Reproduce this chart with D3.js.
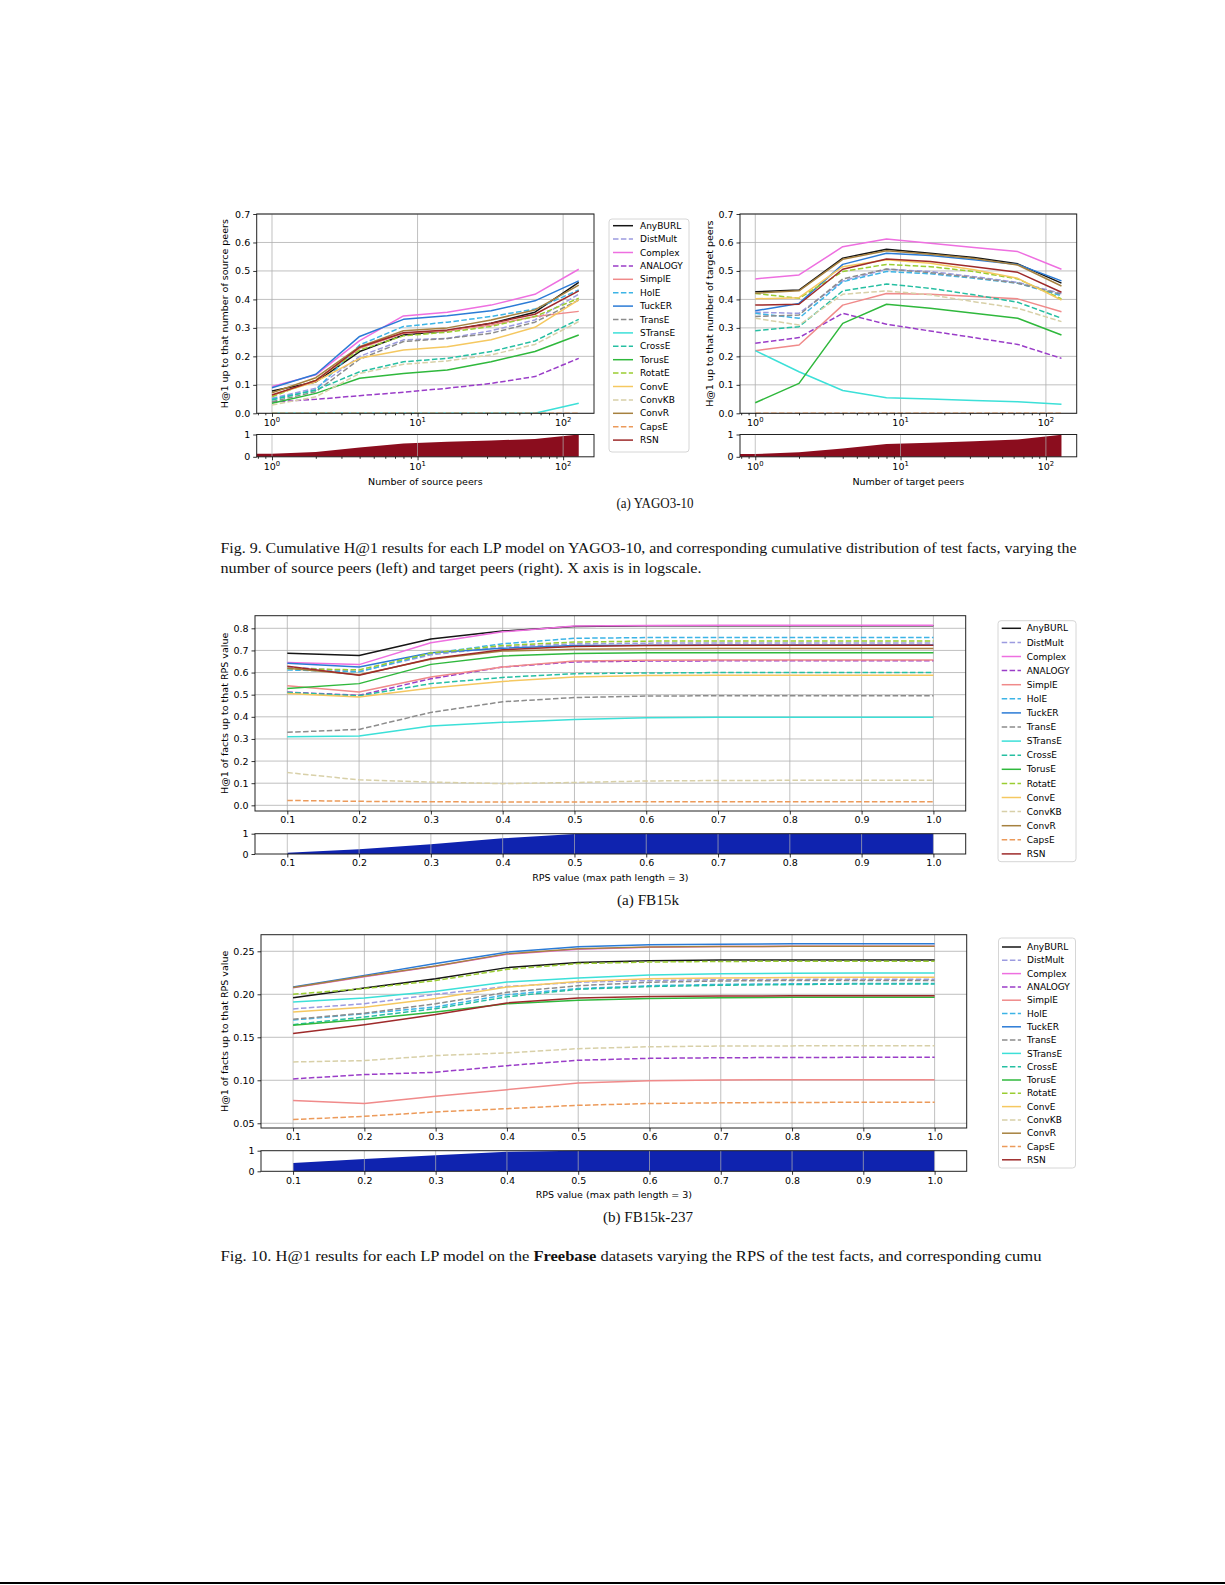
<!DOCTYPE html>
<html><head><meta charset="utf-8">
<script src="https://cdn.jsdelivr.net/npm/d3@7"></script>
<style>body{margin:0;background:#fff}svg{display:block}</style>
</head><body>
<svg id="c" width="1225" height="1585"></svg>
<script>
// ---------------- DATA ----------------
const models = ["AnyBURL","DistMult","Complex","ANALOGY","SimplE","HolE","TuckER","TransE","STransE","CrossE","TorusE","RotatE","ConvE","ConvKB","ConvR","CapsE","RSN"];
const peerCounts = [1,2,4,8,16,32,64,128];
const rpsValues = [0.1,0.2,0.3,0.4,0.5,0.6,0.7,0.8,0.9,1.0];

// YAGO3-10, H@1 up to number of source peers (rows follow `models`)
const yagoSourceH1 = [
  [0.078,0.110,0.217,0.275,0.290,0.316,0.355,0.460],
  [0.053,0.088,0.200,0.258,0.263,0.290,0.328,0.418],
  [0.094,0.135,0.255,0.342,0.355,0.380,0.418,0.506],
  [0.040,0.049,0.062,0.074,0.088,0.105,0.129,0.193],
  [0.062,0.114,0.228,0.281,0.290,0.310,0.340,0.358],
  [0.050,0.082,0.240,0.305,0.320,0.340,0.366,0.433],
  [0.090,0.137,0.270,0.330,0.343,0.360,0.395,0.465],
  [0.041,0.076,0.190,0.252,0.263,0.281,0.320,0.398],
  [0.000,0.000,0.000,0.000,0.000,0.000,0.000,0.035],
  [0.047,0.082,0.146,0.181,0.193,0.217,0.254,0.330],
  [0.035,0.070,0.123,0.140,0.152,0.181,0.217,0.275],
  [0.058,0.117,0.222,0.272,0.285,0.305,0.340,0.404],
  [0.064,0.111,0.193,0.222,0.234,0.258,0.302,0.398],
  [0.029,0.058,0.140,0.172,0.184,0.205,0.242,0.322],
  [0.072,0.125,0.234,0.290,0.300,0.328,0.363,0.450],
  [0.000,0.000,0.000,0.000,0.000,0.000,0.000,0.000],
  [0.064,0.115,0.232,0.283,0.293,0.316,0.348,0.430]
];
// YAGO3-10, H@1 up to number of target peers
const yagoTargetH1 = [
  [0.427,0.433,0.545,0.576,0.562,0.547,0.525,0.457],
  [0.355,0.351,0.465,0.506,0.498,0.480,0.460,0.421],
  [0.472,0.486,0.585,0.612,0.597,0.582,0.568,0.506],
  [0.246,0.266,0.351,0.313,0.289,0.266,0.242,0.193],
  [0.220,0.240,0.380,0.421,0.418,0.410,0.402,0.357],
  [0.351,0.334,0.462,0.498,0.490,0.474,0.457,0.413],
  [0.360,0.386,0.523,0.562,0.554,0.539,0.523,0.465],
  [0.340,0.345,0.472,0.507,0.494,0.477,0.457,0.418],
  [0.220,0.146,0.080,0.055,0.050,0.045,0.041,0.032],
  [0.290,0.304,0.430,0.454,0.439,0.416,0.390,0.334],
  [0.037,0.105,0.316,0.383,0.369,0.351,0.334,0.275],
  [0.421,0.404,0.498,0.523,0.515,0.498,0.472,0.402],
  [0.402,0.406,0.515,0.539,0.527,0.504,0.474,0.398],
  [0.334,0.310,0.418,0.430,0.416,0.392,0.369,0.322],
  [0.422,0.430,0.541,0.571,0.559,0.544,0.521,0.447],
  [0.000,0.000,0.000,0.000,0.000,0.000,0.000,0.000],
  [0.380,0.383,0.506,0.542,0.533,0.515,0.495,0.425]
];
const yagoSourceDist = [0.14,0.21,0.42,0.60,0.67,0.73,0.80,1.00];
const yagoTargetDist = [0.12,0.20,0.37,0.57,0.63,0.70,0.78,0.99];

// FB15k, H@1 of facts up to that RPS value
const fb15kH1 = [
  [0.687,0.677,0.752,0.788,0.808,0.812,0.812,0.812,0.812,0.812],
  [0.625,0.605,0.680,0.716,0.730,0.733,0.734,0.734,0.734,0.734],
  [0.645,0.636,0.735,0.784,0.810,0.813,0.814,0.814,0.814,0.814],
  [0.512,0.497,0.572,0.625,0.648,0.652,0.653,0.653,0.653,0.653],
  [0.540,0.512,0.580,0.625,0.652,0.656,0.657,0.657,0.657,0.657],
  [0.612,0.603,0.686,0.730,0.755,0.758,0.759,0.759,0.759,0.759],
  [0.642,0.625,0.690,0.710,0.722,0.724,0.725,0.725,0.725,0.725],
  [0.330,0.343,0.420,0.468,0.487,0.494,0.495,0.495,0.495,0.495],
  [0.310,0.313,0.358,0.375,0.388,0.396,0.398,0.398,0.398,0.398],
  [0.510,0.495,0.550,0.578,0.595,0.598,0.600,0.600,0.600,0.600],
  [0.528,0.550,0.637,0.675,0.686,0.690,0.690,0.690,0.690,0.690],
  [0.618,0.612,0.688,0.722,0.738,0.742,0.743,0.743,0.743,0.743],
  [0.505,0.490,0.530,0.560,0.580,0.587,0.588,0.588,0.588,0.588],
  [0.148,0.115,0.105,0.098,0.103,0.110,0.112,0.113,0.113,0.113],
  [0.620,0.590,0.660,0.697,0.705,0.708,0.709,0.709,0.709,0.709],
  [0.022,0.018,0.016,0.015,0.015,0.016,0.016,0.016,0.016,0.016],
  [0.628,0.588,0.662,0.703,0.718,0.722,0.723,0.723,0.723,0.723]
];
const fb15kDist = [0.065,0.23,0.475,0.77,0.98,1,1,1,1,1];

// FB15k-237, H@1 of facts up to that RPS value
const fb237H1 = [
  [0.1960,0.2074,0.2180,0.2310,0.2370,0.2390,0.2400,0.2400,0.2400,0.2400],
  [0.1830,0.1890,0.2000,0.2090,0.2140,0.2160,0.2170,0.2173,0.2175,0.2175],
  [0.2075,0.2205,0.2325,0.2465,0.2525,0.2548,0.2555,0.2558,0.2558,0.2558],
  [0.1016,0.1066,0.1093,0.1170,0.1233,0.1255,0.1262,0.1265,0.1267,0.1267],
  [0.0764,0.0729,0.0814,0.0891,0.0969,0.0995,0.1003,0.1006,0.1007,0.1007],
  [0.1700,0.1775,0.1853,0.1996,0.2066,0.2100,0.2115,0.2122,0.2125,0.2125],
  [0.2085,0.2220,0.2357,0.2490,0.2554,0.2575,0.2583,0.2587,0.2588,0.2588],
  [0.1710,0.1780,0.1890,0.2023,0.2100,0.2140,0.2155,0.2160,0.2160,0.2160],
  [0.1910,0.1957,0.2035,0.2143,0.2190,0.2225,0.2238,0.2245,0.2248,0.2248],
  [0.1647,0.1736,0.1833,0.1970,0.2058,0.2090,0.2105,0.2113,0.2120,0.2120],
  [0.1640,0.1710,0.1795,0.1890,0.1930,0.1950,0.1960,0.1965,0.1965,0.1965],
  [0.2000,0.2066,0.2160,0.2290,0.2357,0.2375,0.2382,0.2384,0.2385,0.2385],
  [0.1795,0.1850,0.1950,0.2085,0.2150,0.2180,0.2190,0.2195,0.2198,0.2198],
  [0.1213,0.1229,0.1287,0.1318,0.1368,0.1390,0.1398,0.1400,0.1402,0.1402],
  [0.2080,0.2210,0.2330,0.2470,0.2530,0.2550,0.2555,0.2558,0.2560,0.2560],
  [0.0543,0.0581,0.0632,0.0670,0.0709,0.0730,0.0738,0.0742,0.0744,0.0744],
  [0.1543,0.1647,0.1764,0.1900,0.1957,0.1975,0.1980,0.1982,0.1983,0.1983]
];
const fb237Dist = [0.40,0.60,0.78,0.95,1,1,1,1,1,1];

const yagoYTicks = [0,0.1,0.2,0.3,0.4,0.5,0.6,0.7];
const fb15kYTicks = [0,0.1,0.2,0.3,0.4,0.5,0.6,0.7,0.8];
const fb237YTicks = [0.05,0.10,0.15,0.20,0.25];
const logMajorTicks = [1,10,100];
const distYTicks = [0,1];

// ---------------- STYLE ----------------
const colors = ["#151515","#9c9be0","#ee6fe0","#9a3dc8","#f08a8a","#3cb4e6","#2b7bd6","#8c8c8c","#3ce0d8","#26bfa2","#2fb83c","#9acd32","#f5c860","#d8d0a8","#a6813f","#ec9a5a","#9e2a2a"];
const dashed = [false,true,false,true,false,true,false,true,false,true,false,true,false,true,false,true,false];
const FONT = "'DejaVu Sans', sans-serif";
const FS = 9.5;
const GRID = "#b0b0b0";

const svg = d3.select("#c");
svg.append("rect").attr("width",1225).attr("height",1585).attr("fill","#fff");
const defs = svg.append("defs");
let clipId = 0;

function styleAxis(g){
  g.select(".domain").remove();
  g.selectAll("line").attr("stroke","#000").attr("stroke-width",0.8);
  g.selectAll("text").attr("font-family",FONT).attr("font-size",FS).attr("fill","#000");
}
function logLabels(g, x, y, values){
  values.forEach(v=>{
    const t = g.append("text").attr("x", x(v)).attr("y", y).attr("text-anchor","middle")
      .attr("font-family",FONT).attr("font-size",FS);
    t.append("tspan").text("10");
    t.append("tspan").attr("dy",-4).attr("font-size",6.8).text(String(Math.round(Math.log10(v))));
  });
}
function minorLog(domain){
  const out=[];
  for(let e=-1;e<=3;e++) for(let m=2;m<=9;m++){const v=m*Math.pow(10,e); if(v>domain[0]&&v<domain[1]) out.push(v);}
  return out;
}

function mainPanel(o){
  const g = svg.append("g");
  const x = o.x, y = o.y;
  const cid = "clip"+(clipId++);
  defs.append("clipPath").attr("id",cid).append("rect")
    .attr("x",o.L).attr("y",o.T).attr("width",o.R-o.L).attr("height",o.B-o.T);
  // grid
  g.selectAll(null).data(o.yTicks).join("line")
    .attr("x1",o.L).attr("x2",o.R).attr("y1",d=>y(d)).attr("y2",d=>y(d))
    .attr("stroke",GRID).attr("stroke-width",0.8);
  g.selectAll(null).data(o.xTicks).join("line")
    .attr("x1",d=>x(d)).attr("x2",d=>x(d)).attr("y1",o.T).attr("y2",o.B)
    .attr("stroke",GRID).attr("stroke-width",0.8);
  // series
  const lg = g.append("g").attr("clip-path",`url(#${cid})`);
  const line = d3.line().x((v,j)=>x(o.xs[j])).y(v=>y(v));
  o.data.forEach((vals,i)=>{
    lg.append("path").datum(vals).attr("d",line).attr("fill","none")
      .attr("stroke",colors[i]).attr("stroke-width",1.5)
      .attr("stroke-dasharray",dashed[i]?"5.5,2.4":null)
      .attr("stroke-linejoin","round");
  });
  // spines
  g.append("rect").attr("x",o.L).attr("y",o.T).attr("width",o.R-o.L).attr("height",o.B-o.T)
    .attr("fill","none").attr("stroke","#222").attr("stroke-width",1);
  // y axis
  const ya = g.append("g").attr("transform",`translate(${o.L},0)`)
    .call(d3.axisLeft(y).tickValues(o.yTicks).tickFormat(o.yFmt).tickSize(3.5).tickPadding(3));
  styleAxis(ya);
  // x axis
  const xa = g.append("g").attr("transform",`translate(0,${o.B})`)
    .call(d3.axisBottom(x).tickValues(o.xTicks).tickFormat(o.log?()=>"":o.xFmt).tickSize(3.5).tickPadding(2));
  styleAxis(xa);
  if(o.log){
    const xm = g.append("g").attr("transform",`translate(0,${o.B})`)
      .call(d3.axisBottom(x).tickValues(minorLog(x.domain())).tickFormat(()=>"").tickSize(2));
    styleAxis(xm);
    logLabels(g,x,o.B+13,o.xTicks);
  }
  // y label
  g.append("text").attr("transform",`translate(${o.ylabX},${(o.T+o.B)/2}) rotate(-90)`)
    .attr("dy","0.35em").attr("text-anchor","middle").attr("font-family",FONT).attr("font-size",FS)
    .text(o.ylabel);
}

function distPanel(o){
  const g = svg.append("g");
  const x = o.x;
  const y = d3.scaleLinear().domain([0,1]).range([o.B,o.T]);
  const pts = o.xs.map((xv,j)=>[xv,o.vals[j]]);
  if(o.extendLeft) pts.unshift([x.domain()[0],o.vals[0]]);
  const area = d3.area().x(d=>x(d[0])).y0(y(0)).y1(d=>y(d[1]));
  g.append("path").datum(pts).attr("d",area).attr("fill",o.fill);
  g.selectAll(null).data(o.xTicks).join("line")
    .attr("x1",d=>x(d)).attr("x2",d=>x(d)).attr("y1",o.T).attr("y2",o.B)
    .attr("stroke",GRID).attr("stroke-width",0.8).attr("opacity",0.9);
  g.append("rect").attr("x",o.L).attr("y",o.T).attr("width",o.R-o.L).attr("height",o.B-o.T)
    .attr("fill","none").attr("stroke","#222").attr("stroke-width",1);
  const ya = g.append("g").attr("transform",`translate(${o.L},0)`)
    .call(d3.axisLeft(y).tickValues(distYTicks).tickFormat(d3.format("d")).tickSize(3.5).tickPadding(3));
  styleAxis(ya);
  const xa = g.append("g").attr("transform",`translate(0,${o.B})`)
    .call(d3.axisBottom(x).tickValues(o.xTicks).tickFormat(o.log?()=>"":o.xFmt).tickSize(3.5).tickPadding(2));
  styleAxis(xa);
  if(o.log){
    const xm = g.append("g").attr("transform",`translate(0,${o.B})`)
      .call(d3.axisBottom(x).tickValues(minorLog(x.domain())).tickFormat(()=>"").tickSize(2));
    styleAxis(xm);
    logLabels(g,x,o.B+13,o.xTicks);
  }
  g.append("text").attr("x",(o.L+o.R)/2).attr("y",o.xlabY).attr("text-anchor","middle")
    .attr("font-family",FONT).attr("font-size",FS).text(o.xlabel);
}

function legend(o){
  const g = svg.append("g");
  g.append("rect").attr("x",o.L).attr("y",o.T).attr("width",o.R-o.L).attr("height",o.B-o.T)
    .attr("rx",3).attr("fill","#fff").attr("stroke","#d6d6d6").attr("stroke-width",1);
  models.forEach((m,i)=>{
    const yy = o.first + i*o.step;
    g.append("line").attr("x1",o.lx1).attr("x2",o.lx2).attr("y1",yy).attr("y2",yy)
      .attr("stroke",colors[i]).attr("stroke-width",1.5).attr("stroke-dasharray",dashed[i]?"5.5,2.4":null);
    g.append("text").attr("x",o.tx).attr("y",yy).attr("dy","0.35em")
      .attr("font-family",FONT).attr("font-size",9).text(m);
  });
}

// ---------------- YAGO3-10 ----------------
const logDom = [Math.pow(10,-0.105), Math.pow(10,2.212)];
const xSrc = d3.scaleLog().domain(logDom).range([256.7,594]);
const xTgt = d3.scaleLog().domain(logDom).range([740,1076.7]);
const yYago = d3.scaleLinear().domain([0,0.7]).range([413.3,214]);

mainPanel({L:256.7,R:594,T:214,B:413.3,x:xSrc,y:yYago,xs:peerCounts,data:yagoSourceH1,
  yTicks:yagoYTicks,yFmt:d3.format(".1f"),xTicks:logMajorTicks,log:true,
  ylabel:"H@1 up to that number of source peers",ylabX:225});
mainPanel({L:740,R:1076.7,T:214,B:413.3,x:xTgt,y:yYago,xs:peerCounts,data:yagoTargetH1,
  yTicks:yagoYTicks,yFmt:d3.format(".1f"),xTicks:logMajorTicks,log:true,
  ylabel:"H@1 up to that number of target peers",ylabX:710});
distPanel({L:256.7,R:594,T:434.5,B:456.8,x:xSrc,xs:peerCounts,vals:yagoSourceDist,extendLeft:true,
  fill:"#8b0d1e",xTicks:logMajorTicks,log:true,xlabel:"Number of source peers",xlabY:484.5});
distPanel({L:740,R:1076.7,T:434.5,B:456.8,x:xTgt,xs:peerCounts,vals:yagoTargetDist,extendLeft:true,
  fill:"#8b0d1e",xTicks:logMajorTicks,log:true,xlabel:"Number of target peers",xlabY:484.5});
legend({L:609,R:689,T:219,B:452,first:225.7,step:13.4,lx1:613,lx2:633,tx:640});

// ---------------- FB15k ----------------
const xFb = d3.scaleLinear().domain([0.055,1.045]).range([255,965.7]);
const yFb = d3.scaleLinear().domain([-0.0257,0.857]).range([811,615.7]);
mainPanel({L:255,R:965.7,T:615.7,B:811,x:xFb,y:yFb,xs:rpsValues,data:fb15kH1,
  yTicks:fb15kYTicks,yFmt:d3.format(".1f"),xTicks:rpsValues,xFmt:d3.format(".1f"),
  ylabel:"H@1 of facts up to that RPS value",ylabX:225});
distPanel({L:255,R:965.7,T:833.7,B:854,x:xFb,xs:rpsValues,vals:fb15kDist,
  fill:"#0f23af",xTicks:rpsValues,xFmt:d3.format(".1f"),xlabel:"RPS value (max path length = 3)",xlabY:881});
legend({L:998,R:1076,T:620.7,B:861.7,first:628.3,step:14.1,lx1:1001.7,lx2:1021,tx:1026.7});

// ---------------- FB15k-237 ----------------
const xFb2 = d3.scaleLinear().domain([0.055,1.045]).range([261,966.7]);
const yFb2 = d3.scaleLinear().domain([0.0445,0.2693]).range([1128,934.7]);
mainPanel({L:261,R:966.7,T:934.7,B:1128,x:xFb2,y:yFb2,xs:rpsValues,data:fb237H1,
  yTicks:fb237YTicks,yFmt:d3.format(".2f"),xTicks:rpsValues,xFmt:d3.format(".1f"),
  ylabel:"H@1 of facts up to that RPS value",ylabX:225});
distPanel({L:261,R:966.7,T:1150.7,B:1171.3,x:xFb2,xs:rpsValues,vals:fb237Dist,
  fill:"#0f23af",xTicks:rpsValues,xFmt:d3.format(".1f"),xlabel:"RPS value (max path length = 3)",xlabY:1198});
legend({L:998.5,R:1075.5,T:938,B:1168,first:947,step:13.3,lx1:1002,lx2:1021,tx:1027});

// ---------------- CAPTIONS ----------------
const SERIF = "'Liberation Serif', 'DejaVu Serif', serif";
function cap(txt,x,y,anchor,len){
  const t = svg.append("text").attr("x",x).attr("y",y).attr("text-anchor",anchor)
    .attr("font-family",SERIF).attr("font-size",14).attr("fill","#111");
  if(Array.isArray(txt)) txt.forEach(p=>t.append("tspan").attr("font-weight",p.b?"bold":null).text(p.t));
  else t.text(txt);
  if(len) t.attr("textLength",len).attr("lengthAdjust","spacingAndGlyphs");
}
cap("(a) YAGO3-10",655,508,"middle",77);
cap("Fig. 9.  Cumulative H@1 results for each LP model on YAGO3-10, and corresponding cumulative distribution of test facts, varying the",220.5,553,"start",856);
cap("number of source peers (left) and target peers (right). X axis is in logscale.",220.5,573,"start",481);
cap("(a) FB15k",648,905,"middle",62);
cap("(b) FB15k-237",648,1222,"middle",90);
cap([{t:"Fig. 10.  H@1 results for each LP model on the "},{t:"Freebase",b:true},{t:" datasets varying the RPS of the test facts, and corresponding cumu"}],220.5,1261,"start",821);

svg.append("rect").attr("x",0).attr("y",1582).attr("width",1225).attr("height",2).attr("fill","#000");
</script>
</body></html>
